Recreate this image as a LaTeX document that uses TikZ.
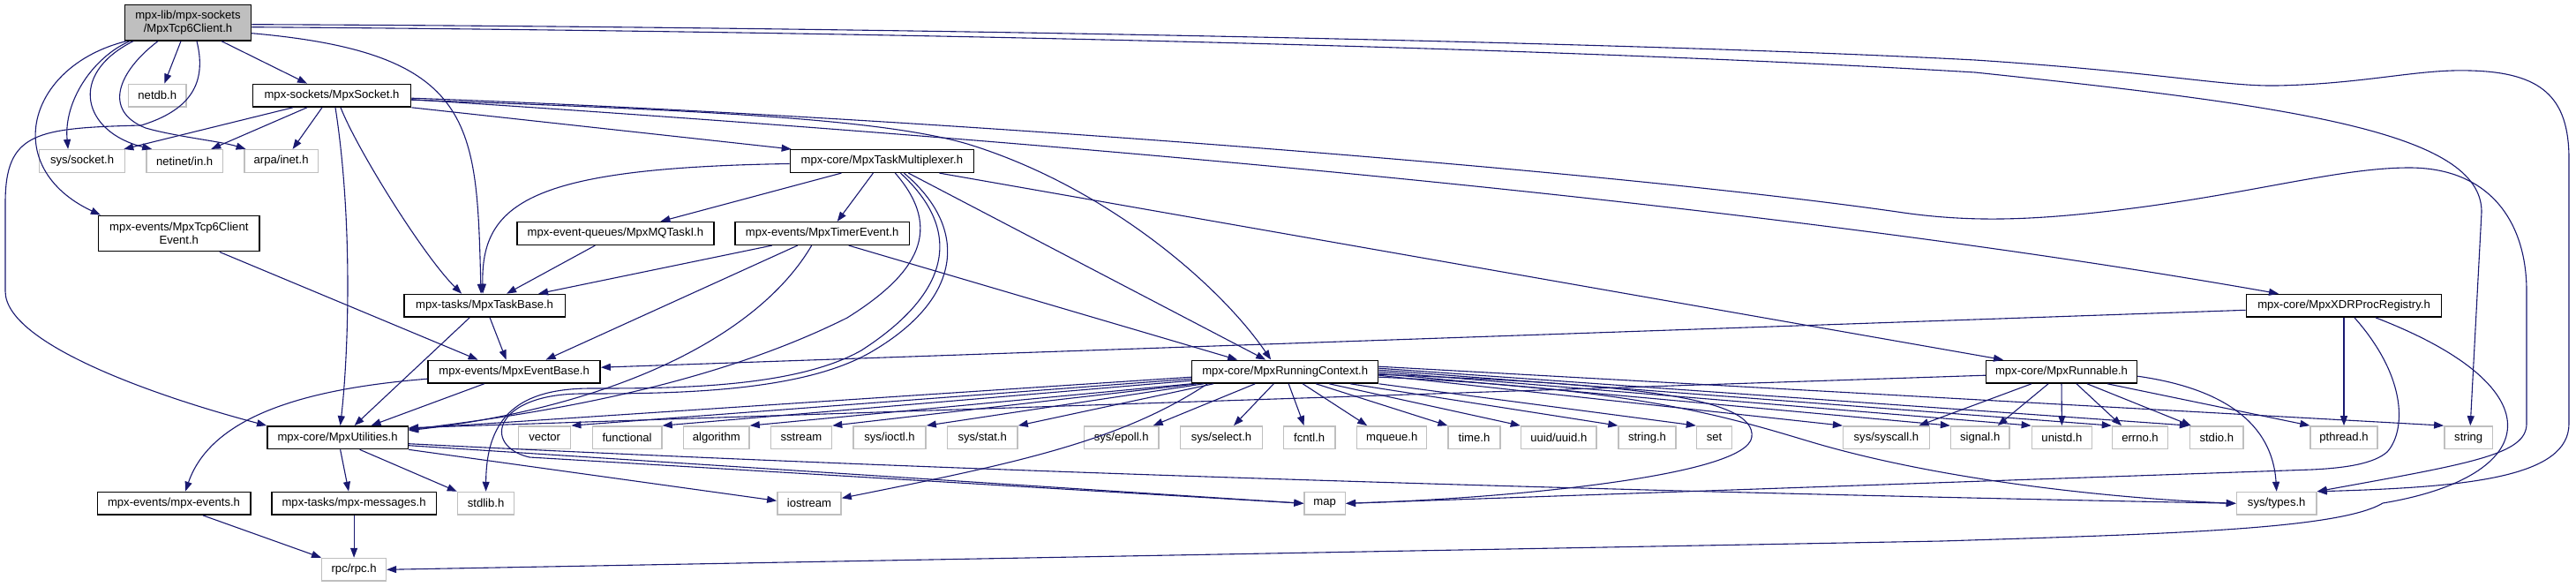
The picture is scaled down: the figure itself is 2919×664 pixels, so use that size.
\documentclass[tikz,border=0pt]{standalone}
\usepackage{fontspec}
\setmainfont{Liberation Sans}
\usetikzlibrary{arrows.meta}
\definecolor{edgeblue}{HTML}{191970}
\definecolor{sysgray}{HTML}{BFBFBF}
\begin{document}
\begin{tikzpicture}[x=1pt,y=-1pt,
 box/.style={rectangle, inner sep=0pt, minimum height=25.7pt, font=\fontsize{13.1pt}{15pt}\selectfont, fill=white},
 doc/.style={box, draw=black, line width=1.5pt},
 sys/.style={box, draw=sysgray, line width=1.4pt},
 two/.style={minimum height=40.4pt, align=center},
 dep/.style={draw=edgeblue, line width=1.1pt, -{Triangle[length=11pt,width=8pt]}}]
\useasboundingbox (0,0) rectangle (2919,664);
% row 0
\node[doc, two, fill=sysgray, minimum width=143pt] (root) at (213,25.7) {mpx-lib/mpx-sockets\\/MpxTcp6Client.h};
% row 1
\node[sys, minimum width=65.7pt] (netdb) at (178.3,108.2) {netdb.h};
\node[doc, minimum width=179.2pt] (sock) at (376,108.2) {mpx-sockets/MpxSocket.h};
% row 2
\node[sys, minimum width=97pt] (syssock) at (93.1,182.5) {sys/socket.h};
\node[sys, minimum width=86.8pt] (netinet) at (209.2,182.5) {netinet/in.h};
\node[sys, minimum width=83.5pt] (arpa) at (318.6,182.5) {arpa/inet.h};
\node[doc, minimum width=208pt] (tm) at (999.4,182.5) {mpx-core/MpxTaskMultiplexer.h};
% row 3
\node[doc, two, minimum width=182.4pt] (tcpev) at (202.8,264.5) {mpx-events/MpxTcp6Client\\Event.h};
\node[doc, minimum width=222.8pt] (mq) at (697.4,264.5) {mpx-event-queues/MpxMQTaskI.h};
\node[doc, minimum width=197.7pt] (te) at (931.7,264.5) {mpx-events/MpxTimerEvent.h};
% row 4
\node[doc, minimum width=182.5pt] (tb) at (549.1,346.3) {mpx-tasks/MpxTaskBase.h};
\node[doc, minimum width=221.3pt] (xdr) at (2656,346.3) {mpx-core/MpxXDRProcRegistry.h};
% row 5
\node[doc, minimum width=195pt] (eb) at (582.6,421.2) {mpx-events/MpxEventBase.h};
\node[doc, minimum width=211pt] (rc) at (1456.2,421.2) {mpx-core/MpxRunningContext.h};
\node[doc, minimum width=171pt] (run) at (2336,421.2) {mpx-core/MpxRunnable.h};
% row 6
\node[doc, minimum width=159.5pt] (util) at (382.6,495.7) {mpx-core/MpxUtilities.h};
\node[sys, minimum width=59pt] (nvector) at (617.2,495.7) {vector};
\node[sys, minimum width=78.8pt] (nfunctional) at (710.6,495.7) {functional};
\node[sys, minimum width=74.6pt] (nalgorithm) at (811.8,495.7) {algorithm};
\node[sys, minimum width=69.3pt] (nsstream) at (907.9,495.7) {sstream};
\node[sys, minimum width=82.3pt] (nioctl) at (1008,495.7) {sys/ioctl.h};
\node[sys, minimum width=79.8pt] (nstat) at (1113.2,495.7) {sys/stat.h};
\node[sys, minimum width=84.8pt] (nepoll) at (1270.7,495.7) {sys/epoll.h};
\node[sys, minimum width=93.3pt] (nselect) at (1384,495.7) {sys/select.h};
\node[sys, minimum width=58.4pt] (nfcntl) at (1483.7,495.7) {fcntl.h};
\node[sys, minimum width=79pt] (nmqueue) at (1577.2,495.7) {mqueue.h};
\node[sys, minimum width=58.9pt] (ntime) at (1670.5,495.7) {time.h};
\node[sys, minimum width=85.7pt] (nuuid) at (1766.3,495.7) {uuid/uuid.h};
\node[sys, minimum width=65pt] (nstringh) at (1866.5,495.7) {string.h};
\node[sys, minimum width=40.2pt] (nset) at (1942.6,495.7) {set};
\node[sys, minimum width=97.6pt] (nsyscall) at (2137.4,495.7) {sys/syscall.h};
\node[sys, minimum width=66.3pt] (nsignal) at (2243.7,495.7) {signal.h};
\node[sys, minimum width=68.2pt] (nunistd) at (2336.4,495.7) {unistd.h};
\node[sys, minimum width=63.1pt] (nerrno) at (2425,495.7) {errno.h};
\node[sys, minimum width=60.6pt] (nstdio) at (2511.8,495.7) {stdio.h};
\node[sys, minimum width=75.9pt] (npthread) at (2656,495.7) {pthread.h};
\node[sys, minimum width=54.8pt] (nstring) at (2797.2,495.7) {string};
% row 7
\node[doc, minimum width=173.5pt] (mpxev) at (197,570.3) {mpx-events/mpx-events.h};
\node[doc, minimum width=186.3pt] (msgs) at (401.1,570.3) {mpx-tasks/mpx-messages.h};
\node[sys, minimum width=64.2pt] (nstdlib) at (550.6,570.3) {stdlib.h};
\node[sys, minimum width=72.3pt] (niostream) at (917,570.3) {iostream};
\node[sys, minimum width=46.4pt] (nmap) at (1501.2,570.3) {map};
\node[sys, minimum width=90.6pt] (nsystypes) at (2579.7,570.3) {sys/types.h};
% row 8
\node[sys, minimum width=72.7pt] (rpc) at (401.1,645.3) {rpc/rpc.h};

% ---- edges from root
\draw[dep] ([xshift=-8pt]root.south) -- ([xshift=8pt]netdb.north);
\draw[dep] ([xshift=38pt]root.south) -- ([xshift=-28pt]sock.north);
\draw[dep] ([xshift=-66pt]root.south) .. controls (105,65) and (72,115) .. ([xshift=-16pt]syssock.north);
\draw[dep] ([xshift=-62pt]root.south) .. controls (75,85) and (95,150) .. ([xshift=-37pt]netinet.north);
\draw[dep] ([xshift=-34pt]root.south) .. controls (135,80) and (115,125) .. (165,145) .. controls (200,155) and (250,160) .. ([xshift=-40pt]arpa.north);
\draw[dep] ([xshift=-70pt]root.south) .. controls (30,75) and (0,190) .. ([xshift=3pt]tcpev.north west);
\draw[dep] ([xshift=10pt]root.south) .. controls (235,95) and (215,125) .. (160,142) .. controls (40,145) and (6,150) .. (6,230) -- (6,330) .. controls (6,390) and (180,450) .. (util.north west);
\draw[dep] ([yshift=-12pt]root.east) .. controls (540,60) and (540,140) .. ([xshift=-4pt]tb.north);
\draw[dep] ([yshift=-2pt]root.east) .. controls (900,30) and (1800,45) .. (2238,68) .. controls (2450,82) and (2520,98) .. (2580,97) .. controls (2680,95) and (2740,78) .. (2799,80) .. controls (2880,82) and (2911,110) .. (2911,180) -- (2911,480) .. controls (2911,540) and (2800,552) .. (nsystypes.north east);
\draw[dep] ([yshift=-5pt]root.east) .. controls (900,35) and (1700,50) .. (2238,82) .. controls (2600,120) and (2812,150) .. (2812,240) -- ([xshift=2pt]nstring.north);
% ---- edges from MpxSocket
\draw[dep] ([xshift=-44pt]sock.south) -- ([xshift=-2pt]syssock.north east);
\draw[dep] ([xshift=-28pt]sock.south) -- ([xshift=30pt]netinet.north);
\draw[dep] ([xshift=-11pt]sock.south) -- ([xshift=13pt]arpa.north);
\draw[dep] ([xshift=4pt]sock.south) .. controls (400,250) and (395,400) .. ([xshift=3pt]util.north);
\draw[dep] ([xshift=10pt]sock.south) .. controls (405,170) and (480,290) .. ([xshift=-26pt]tb.north);
\draw[dep] (sock.south east) -- ([xshift=2pt]tm.north west);
\draw[dep] ([yshift=-5pt]sock.east) .. controls (800,125) and (1000,135) .. (1096,163) .. controls (1250,210) and (1380,320) .. ([xshift=-16pt]rc.north);
\draw[dep] ([yshift=-3pt]sock.east) .. controls (1000,130) and (1800,190) .. (2150,240) .. controls (2230,252) and (2300,250) .. (2400,238) .. controls (2550,220) and (2650,190) .. (2730,190) .. controls (2820,190) and (2863,250) .. (2863,330) -- (2863,480) .. controls (2863,515) and (2800,525) .. (nsystypes.north east);
\draw[dep] ([yshift=-4.5pt]sock.east) .. controls (1200,160) and (2000,230) .. ([xshift=-74pt]xdr.north);
% ---- edges from TaskMultiplexer
\draw[dep] ([xshift=-46pt]tm.south) -- ([xshift=51pt]mq.north);
\draw[dep] ([xshift=-10pt]tm.south) -- ([xshift=17pt]te.north);
\draw[dep] ([yshift=-3pt]tm.west) .. controls (600,190) and (545,230) .. ([xshift=-2pt]tb.north);
\draw[dep] ([xshift=15pt]tm.south) .. controls (1070,260) and (1040,310) .. (960,360) .. controls (800,440) and (600,470) .. ([yshift=9pt]util.east);
\draw[dep] ([xshift=21pt]tm.south) .. controls (1090,260) and (1080,330) .. (976,397) .. controls (900,440) and (760,440) .. (670,440) .. controls (590,440) and (551,470) .. (nstdlib.north);
\draw[dep] ([xshift=25pt]tm.south) .. controls (1100,260) and (1090,340) .. (985,400) .. controls (905,445) and (760,446) .. (660,446) .. controls (560,446) and (545,505) .. (600,518) -- (nmap.west);
\draw[dep] ([xshift=30pt]tm.south) -- ([xshift=-22pt]rc.north);
\draw[dep] ([xshift=65pt]tm.south) -- ([xshift=-66pt]run.north);
% ---- edges from TimerEvent, MQTaskI, TaskBase, Tcp6ClientEvent, EventBase
\draw[dep] ([xshift=-57pt]te.south) -- ([xshift=61pt]tb.north);
\draw[dep] ([xshift=-28pt]te.south) -- ([xshift=36pt]eb.north);
\draw[dep] ([xshift=-12pt]te.south) .. controls (860,380) and (700,460) .. ([yshift=8pt]util.east);
\draw[dep] ([xshift=30pt]te.south) -- ([xshift=-54pt]rc.north);
\draw[dep] ([xshift=-23pt]mq.south) -- ([xshift=25pt]tb.north);
\draw[dep] ([xshift=6pt]tb.south) -- ([xshift=-9pt]eb.north);
\draw[dep] ([xshift=-17pt]tb.south) -- ([xshift=19pt]util.north);
\draw[dep] ([xshift=46pt]tcpev.south) -- ([xshift=-41pt]eb.north);
\draw[dep] ([xshift=-34pt]eb.south) -- ([xshift=38pt]util.north);
\draw[dep] ([yshift=-8pt]eb.west) .. controls (350,440) and (240,470) .. ([xshift=13pt]mpxev.north);
% ---- edges from XDRProcRegistry
\draw[dep] ([yshift=-5pt]xdr.west) -- ([yshift=5pt]eb.east);
\draw[dep] (xdr.south) -- (npthread.north);
\draw[dep] ([xshift=12pt]xdr.south) .. controls (2730,430) and (2725,490) .. (2705,512) .. controls (2690,525) and (2660,530) .. (2620,532) -- (nmap.east);
\draw[dep] ([xshift=36pt]xdr.south) .. controls (2900,440) and (2880,540) .. (2700,570) .. controls (2650,600) and (2450,605) .. (2200,613) -- (rpc.east);
% ---- edges from Runnable
\draw[dep] ([yshift=-4pt]run.west) -- ([yshift=11pt]util.east);
\draw[dep] ([xshift=-34pt]run.south) -- ([xshift=37pt]nsyscall.north);
\draw[dep] ([xshift=-15pt]run.south) -- ([xshift=20pt]nsignal.north);
\draw[dep] (run.south) -- (nunistd.north);
\draw[dep] ([xshift=17pt]run.south) -- ([xshift=-21pt]nerrno.north);
\draw[dep] ([xshift=29pt]run.south) -- ([xshift=2pt]nstdio.north west);
\draw[dep] ([xshift=52pt]run.south) -- (npthread.north west);
\draw[dep] ([yshift=-5pt]run.east) .. controls (2520,440) and (2575,480) .. (nsystypes.north);
% ---- edges from RunningContext
\draw[dep] ([yshift=-6pt]rc.west) -- ([yshift=10pt]util.east);
\draw[dep] ([yshift=-8pt]rc.west) -- (nvector.north east);
\draw[dep] ([yshift=-10pt]rc.west) -- (nfunctional.north east);
\draw[dep] (rc.south west) -- (nalgorithm.north east);
\draw[dep] ([xshift=6pt]rc.south west) -- (nsstream.north east);
\draw[dep] ([xshift=14pt]rc.south west) -- (nioctl.north east);
\draw[dep] ([xshift=25pt]rc.south west) -- (nstat.north east);
\draw[dep] ([xshift=-88pt]rc.south) .. controls (1270,500) and (1150,525) .. ([yshift=6pt]niostream.east);
\draw[dep] ([xshift=-34pt]rc.south) -- ([xshift=36pt]nepoll.north);
\draw[dep] ([xshift=-13pt]rc.south) -- ([xshift=14pt]nselect.north);
\draw[dep] ([xshift=4pt]rc.south) -- ([xshift=-6pt]nfcntl.north);
\draw[dep] ([xshift=20pt]rc.south) -- ([xshift=-28pt]nmqueue.north);
\draw[dep] ([xshift=35pt]rc.south) -- (ntime.north west);
\draw[dep] ([xshift=50pt]rc.south) -- (nuuid.north west);
\draw[dep] ([xshift=74pt]rc.south) -- (nstringh.north west);
\draw[dep] (rc.south east) -- (nset.north west);
\draw[dep] ([yshift=-4pt]rc.east) -- (nsyscall.north west);
\draw[dep] ([yshift=-2pt]rc.east) -- (nsignal.north west);
\draw[dep] (rc.east) -- (nunistd.north west);
\draw[dep] ([yshift=2pt]rc.east) -- (nerrno.north west);
\draw[dep] ([yshift=4pt]rc.east) -- (nstdio.north west);
\draw[dep] ([yshift=6pt]rc.east) -- (nstring.north west);
\draw[dep] ([yshift=-3pt]rc.east) .. controls (1850,435) and (1990,450) .. (1985,495) .. controls (1980,540) and (1700,565) .. (nmap.east);
\draw[dep] ([yshift=-6pt]rc.east) .. controls (1850,440) and (1950,470) .. (2050,500) .. controls (2200,545) and (2400,565) .. (nsystypes.west);
% ---- edges from Utilities
\draw[dep] ([xshift=3pt]util.south) -- ([xshift=-6pt]msgs.north);
\draw[dep] ([xshift=25pt]util.south) -- (nstdlib.north west);
\draw[dep] (util.south east) -- ([yshift=3pt]niostream.west);
\draw[dep] ([yshift=-9pt]util.east) -- (nmap.west);
\draw[dep] ([yshift=-7pt]util.east) .. controls (1200,540) and (2000,560) .. (nsystypes.west);
% ---- to rpc
\draw[dep] ([xshift=33pt]mpxev.south) -- (rpc.north west);
\draw[dep] (msgs.south) -- (rpc.north);
\end{tikzpicture}
\end{document}
